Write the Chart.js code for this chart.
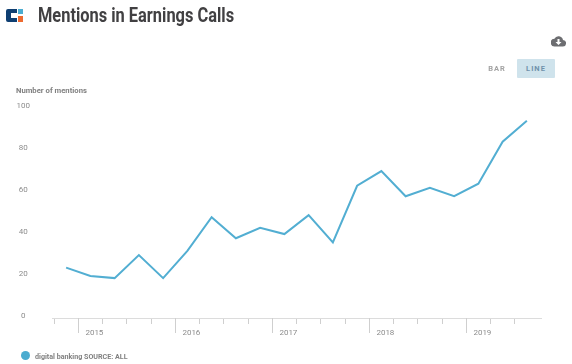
<!DOCTYPE html>
<html>
<head>
<meta charset="utf-8">
<title>Mentions in Earnings Calls</title>
<script src="https://cdn.jsdelivr.net/npm/chart.js@4/dist/chart.umd.min.js"></script>
<style>
    html, body { margin: 0; padding: 0; background: #fff; }
    body { width: 572px; height: 364px; position: relative; overflow: hidden; font-family: Roboto, sans-serif; }
    #chart-wrap { position: absolute; left: 0; top: 0; width: 572px; height: 364px; }
    .logo { position: absolute; left: 6px; top: 9px; width: 17px; height: 13px; }
    .chart-title { position: absolute; left: 38px; top: 1px; font-size: 20px; line-height: 28px; font-weight: 700; color: #414042; white-space: nowrap; transform: scaleX(.82); transform-origin: left top; }
    .axis-title { position: absolute; left: 16px; top: 85px; font-size: 8px; line-height: 11px; font-weight: 700; color: #808080; white-space: nowrap; transform: scaleX(.96); transform-origin: left top; }
    .toggle { position: absolute; top: 59px; height: 19px; line-height: 19px; font-size: 7.5px; font-weight: 700; letter-spacing: 1px; text-align: center; border-radius: 1px; }
    .toggle.bar { left: 480px; width: 34px; color: #a3a3a3; }
    .toggle.line { left: 517px; width: 38px; color: #6f92ab; background: #cfe3ec; }
    .cloud { position: absolute; left: 551px; top: 35px; width: 15px; height: 12px; }
    .legend { position: absolute; left: 21px; top: 351px; font-size: 8px; line-height: 12px; font-weight: 700; color: #808080; white-space: nowrap; padding-left: 14px; }
    .legend span { display: inline-block; transform: scaleX(.89); transform-origin: left top; }
    .legend i { position: absolute; left: 0; top: 0; width: 9px; height: 9px; border-radius: 50%; background: #4bacd0; }
</style>
</head>
<body>
<div id="chart-wrap"><canvas id="mentionsChart" width="572" height="364"></canvas></div>

<svg class="logo" viewBox="0 0 17 13">
    <path d="M2 0h9v4H5v5h6v4H2a2 2 0 0 1-2-2V2a2 2 0 0 1 2-2z" fill="#0f3f72"/>
    <rect x="12" y="0" width="5" height="5" fill="#4bacd0"/>
    <rect x="12" y="7" width="5" height="6" fill="#ee6a2f"/>
</svg>
<div class="chart-title">Mentions in Earnings Calls</div>
<div class="axis-title">Number of mentions</div>
<div class="toggle bar">BAR</div>
<div class="toggle line">LINE</div>
<svg class="cloud" viewBox="0 0 15 12">
    <path d="M12 5A4.6 4.6 0 0 0 3.4 3.8 3.8 3.8 0 0 0 3.8 11.5h7.8A3.2 3.2 0 0 0 12 5z" fill="#6d6e71"/>
    <path d="M6.5 4h2v3h2L7.5 10 4.5 7h2z" fill="#fff"/>
</svg>
<div class="legend"><i></i><span>digital banking SOURCE: ALL</span></div>

<script>
const quarters = [
    '2015 Q1', '2015 Q2', '2015 Q3', '2015 Q4',
    '2016 Q1', '2016 Q2', '2016 Q3', '2016 Q4',
    '2017 Q1', '2017 Q2', '2017 Q3', '2017 Q4',
    '2018 Q1', '2018 Q2', '2018 Q3', '2018 Q4',
    '2019 Q1', '2019 Q2', '2019 Q3', '2019 Q4'
];
const mentions = [23, 19, 18, 29, 18, 31, 47, 37, 42, 39, 48, 35, 62, 69, 57, 61, 57, 63, 83, 93];
// the year label sits on this index, the long tick just left of it
const yearLabels = { 1: '2015', 5: '2016', 9: '2017', 13: '2018', 17: '2019' };
const yTicks = [0, 20, 40, 60, 80, 100];

const AXIS_COLOR = '#dcdcdc';
const TICK_COLOR = '#cfcfcf';

// long year ticks and the axis line running a bit past the plot
const yearTicksPlugin = {
    id: 'yearTicks',
    afterDraw(chart) {
        const { ctx, scales: { x }, chartArea } = chart;
        const half = (x.getPixelForValue(1) - x.getPixelForValue(0)) / 2;
        ctx.save();
        ctx.strokeStyle = AXIS_COLOR;
        ctx.lineWidth = 1;
        ctx.beginPath();
        ctx.moveTo(chartArea.left - 2, chartArea.bottom + 0.5);
        ctx.lineTo(chartArea.right + 3, chartArea.bottom + 0.5);
        ctx.stroke();
        ctx.strokeStyle = TICK_COLOR;
        ctx.beginPath();
        Object.keys(yearLabels).forEach(i => {
            const px = Math.round(x.getPixelForValue(Number(i)) - half) + 0.5;
            ctx.moveTo(px, chartArea.bottom);
            ctx.lineTo(px, chartArea.bottom + 15);
        });
        ctx.stroke();
        ctx.restore();
    }
};

new Chart(document.getElementById('mentionsChart'), {
    type: 'line',
    data: {
        labels: quarters,
        datasets: [{
            label: 'digital banking SOURCE: ALL',
            data: mentions,
            borderColor: '#52aed2',
            backgroundColor: '#52aed2',
            borderWidth: 2,
            pointRadius: 0,
            tension: 0
        }]
    },
    options: {
        responsive: false,
        animation: false,
        layout: { padding: { left: 0, right: 33, top: 106, bottom: 0 } },
        plugins: { legend: { display: false }, tooltip: { enabled: false } },
        scales: {
            x: {
                offset: true,
                border: { display: false },
                grid: {
                    drawOnChartArea: false,
                    drawTicks: true,
                    offset: true,
                    tickLength: 6,
                    tickWidth: 1,
                    // the closing band edge has no tick in its context, and no tick in the reference
                    tickColor: ctx => (ctx.tick ? TICK_COLOR : 'transparent')
                },
                ticks: {
                    autoSkip: false,
                    maxRotation: 0,
                    minRotation: 0,
                    padding: 4,
                    labelOffset: 4,
                    color: '#8c8c8c',
                    font: { family: 'Roboto', size: 8 },
                    callback: (value, index) => yearLabels[index] || ''
                },
                afterFit: scale => { scale.height = 46; }
            },
            y: {
                // the zero sits 2px above the axis line in the reference
                min: -1,
                max: 100,
                border: { display: false },
                grid: { display: false },
                afterBuildTicks: scale => { scale.ticks = yTicks.map(v => ({ value: v })); },
                ticks: {
                    padding: 16,
                    crossAlign: 'center',
                    color: '#8c8c8c',
                    font: { family: 'Roboto', size: 8 }
                },
                afterFit: scale => { scale.width = 54; }
            }
        }
    },
    plugins: [yearTicksPlugin]
});
</script>
</body>
</html>
